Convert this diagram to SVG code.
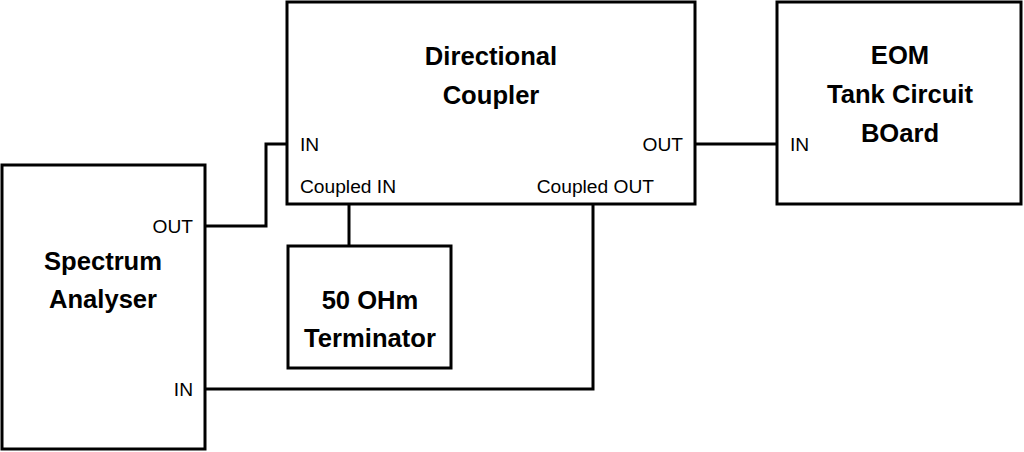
<svg xmlns="http://www.w3.org/2000/svg" width="1024" height="452" viewBox="0 0 1024 452">
<style>
.box{fill:#fff;stroke:#000;stroke-width:3}
.wire{fill:none;stroke:#000;stroke-width:3}
.t{font-family:"Liberation Sans",Arial,sans-serif;font-weight:bold;font-size:25.6px;text-anchor:middle;fill:#000}
.p{font-family:"Liberation Sans",Arial,sans-serif;font-size:19.2px;fill:#000}
.r{text-anchor:end}
</style>
<rect width="1024" height="452" fill="#fff"/>
<g id="connectors">
<path class="wire" d="M205 226 H266 V144 H287"/>
<path class="wire" d="M349 204 V246"/>
<path class="wire" d="M593 204 V389 H205"/>
<path class="wire" d="M695 144 H777"/>
</g>
<g id="spectrum">
<rect class="box" x="2" y="165" width="203" height="284"/>
<text class="t" x="103" y="270">Spectrum</text>
<text class="t" x="103" y="308">Analyser</text>
<text class="p r" x="193" y="233">OUT</text>
<text class="p r" x="193" y="396">IN</text>
</g>
<g id="coupler">
<rect class="box" x="287" y="2" width="408" height="202"/>
<text class="t" x="491" y="65">Directional</text>
<text class="t" x="491" y="104">Coupler</text>
<text class="p" x="300" y="151">IN</text>
<text class="p r" x="683" y="151">OUT</text>
<text class="p" x="300" y="193">Coupled IN</text>
<text class="p r" x="654" y="193">Coupled OUT</text>
</g>
<g id="terminator">
<rect class="box" x="288" y="246" width="163" height="122"/>
<text class="t" x="370" y="309">50 OHm</text>
<text class="t" x="370" y="347">Terminator</text>
</g>
<g id="eom">
<rect class="box" x="777" y="2" width="244" height="202"/>
<text class="t" x="900" y="64">EOM</text>
<text class="t" x="900" y="103">Tank Circuit</text>
<text class="t" x="900" y="142">BOard</text>
<text class="p" x="790" y="151">IN</text>
</g>
</svg>
